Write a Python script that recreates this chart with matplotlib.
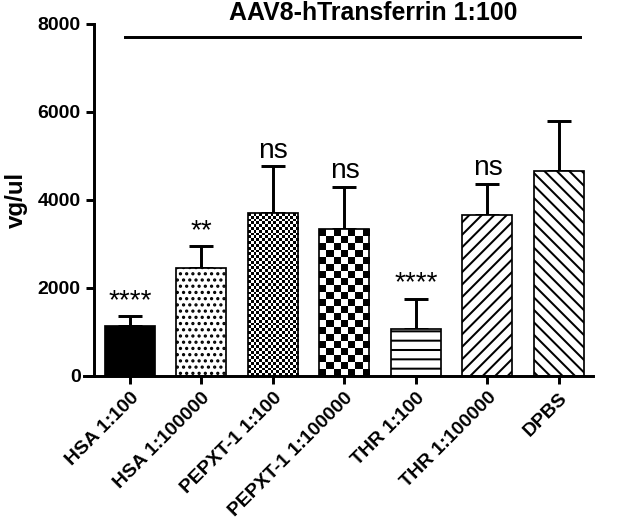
import numpy as np
import matplotlib
matplotlib.use('Agg')
import matplotlib.pyplot as plt

plt.rcParams['font.family'] = ['Liberation Sans', 'DejaVu Sans']
plt.rcParams['hatch.linewidth'] = 1.3

img_name = 'out.png'

###############################################################################
# data

labels = ['HSA 1:100', 'HSA 1:100000', 'PEPXT-1 1:100', 'PEPXT-1 1:100000',
          'THR 1:100', 'THR 1:100000', 'DPBS']
means = [1130, 2450, 3700, 3340, 1070, 3660, 4660]
sd = [230, 500, 1070, 960, 680, 710, 1140]
signif = ['****', '**', 'ns', 'ns', '****', 'ns', '']
title = 'AAV8-hTransferrin 1:100'
ylabel = 'vg/ul'
yticks = [0, 2000, 4000, 6000, 8000]

# fill per bar: 'solid', hatch string, or ('checker', cell px)
fills = ['solid', '...', ('checker', 2.8), ('checker', 7.0), '--', '///', '\\\\\\']

###############################################################################
# plotting

dpi = 112
fig = plt.figure(figsize=(628 / dpi, 522 / dpi), dpi=dpi)
ax = fig.add_axes([84 / 628, 146 / 522, 509 / 628, 352 / 522])

x = np.arange(len(labels))
width = 0.7
ax.set_xlim(-0.643, 6.476)
ax.set_ylim(0, 8000)

for i in range(len(labels)):
    f = fills[i]
    if f == 'solid':
        bars = ax.bar(x[i], means[i], width, color='black', edgecolor='black',
                      linewidth=1.1, zorder=2)
    elif isinstance(f, tuple):
        bars = ax.bar(x[i], means[i], width, facecolor='none', edgecolor='black',
                      linewidth=1.1, zorder=3)
        # checkerboard texture clipped to the bar
        p0 = ax.transData.transform((x[i] - width / 2, 0))
        p1 = ax.transData.transform((x[i] + width / 2, means[i]))
        ncol = max(1, int(round((p1[0] - p0[0]) / f[1])))
        nrow = max(1, int(round((p1[1] - p0[1]) / f[1])))
        board = np.indices((nrow, ncol)).sum(axis=0) % 2
        im = ax.imshow(board, cmap='gray', interpolation='nearest', aspect='auto',
                       extent=[x[i] - width / 2, x[i] + width / 2, 0, means[i]],
                       zorder=2)
        im.set_clip_path(bars[0])
    else:
        bars = ax.bar(x[i], means[i], width, facecolor='white', edgecolor='black',
                      hatch=f, linewidth=1.1, zorder=2)

    ax.errorbar(x[i], means[i], yerr=[[0], [sd[i]]], fmt='none', ecolor='black',
                elinewidth=1.9, capsize=7.7, capthick=1.9, zorder=1)

    if signif[i]:
        ax.annotate(signif[i], (x[i], means[i] + sd[i]), xytext=(0, 1.5),
                    textcoords='offset points', ha='center', va='bottom',
                    fontsize=18, annotation_clip=False)

ax.set_xlim(-0.643, 6.476)
ax.set_ylim(0, 8000)

# comparison line + title
ax.plot([-0.07, 6.29], [7700, 7700], color='black', linewidth=1.9, clip_on=False)
ax.text(3.40, 8250, title, ha='center', va='center', fontsize=16,
        fontweight='bold', clip_on=False)

# make plot pretty
for s in ['top', 'right']:
    ax.spines[s].set_visible(False)
ax.spines['left'].set_position(('data', -0.503))
ax.spines['left'].set_linewidth(1.9)
ax.spines['bottom'].set_linewidth(1.9)
ax.tick_params(axis='both', direction='out', length=5, width=1.9, labelsize=12.5)

ax.set_yticks(yticks)
ax.set_yticklabels([str(t) for t in yticks], fontweight='bold')
ax.set_xticks(x)
ax.set_xticklabels(labels, rotation=45, ha='right', rotation_mode='anchor',
                   fontweight='bold')
ax.set_ylabel(ylabel, fontsize=15.5, fontweight='bold', labelpad=6)

plt.savefig(img_name, dpi=dpi)
plt.close()
